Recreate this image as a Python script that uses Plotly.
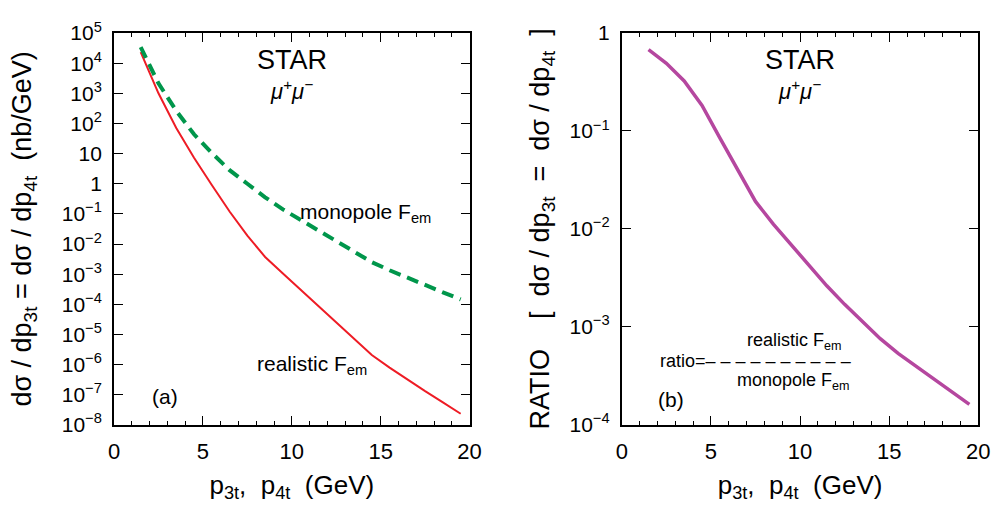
import plotly.graph_objects as go

# transverse momentum of the muons (GeV), bin centres
pt = [1.5, 2.5, 3.5, 4.5, 5.5, 6.5, 7.5, 8.5, 9.5, 10.5,
      11.5, 12.5, 13.5, 14.5, 15.5, 16.5, 17.5, 18.5, 19.5]

# dsigma/dp_t (nb/GeV) with realistic e.m. form factor
realistic = [2.34e4, 1.0e3, 70.8, 7.24, 0.912, 0.120, 1.91e-2, 3.72e-3, 1.05e-3, 3.02e-4,
             8.71e-5, 2.51e-5, 6.76e-6, 2.09e-6, 7.94e-7, 3.16e-7, 1.32e-7, 5.62e-8, 2.34e-8]

# dsigma/dp_t (nb/GeV) with monopole e.m. form factor
monopole = [3.39e4, 2.14e3, 263.0, 43.7, 10.5, 2.82, 1.0, 0.355, 0.141, 6.31e-2,
            2.82e-2, 1.26e-2, 5.62e-3, 2.51e-3, 1.35e-3, 7.59e-4, 4.17e-4, 2.51e-4, 1.45e-4]

# realistic / monopole
ratio = [0.676, 0.490, 0.324, 0.182, 8.51e-2, 4.07e-2, 1.91e-2, 1.12e-2, 6.92e-3, 4.17e-3,
         2.63e-3, 1.70e-3, 1.12e-3, 7.59e-4, 5.37e-4, 3.98e-4, 2.95e-4, 2.19e-4, 1.62e-4]

x_ticks = [0, 5, 10, 15, 20]
left_decades = list(range(-8, 6))
right_decades = list(range(-4, 1))

W, H = 1007, 512
FONT = "Liberation Sans"


def decade_label(e):
    if e == 0:
        return "1"
    if e == 1:
        return "10"
    return "10<sup>" + str(e).replace("-", "\u2212") + "</sup>"


def minor_vals(decades):
    vals = []
    for e in decades[:-1]:
        for k in range(2, 10):
            vals.append(k * 10.0 ** e)
    return vals


fig = go.Figure()
fig.add_trace(go.Scatter(x=pt, y=realistic, mode="lines",
                         line=dict(color="#ee1c25", width=2), xaxis="x", yaxis="y"))
fig.add_trace(go.Scatter(x=pt, y=monopole, mode="lines",
                         line=dict(color="#00964b", width=4, dash="12px,7px"),
                         xaxis="x", yaxis="y"))
fig.add_trace(go.Scatter(x=pt, y=ratio, mode="lines",
                         line=dict(color="#b5479f", width=3.5), xaxis="x2", yaxis="y2"))

xtitle = "p<sub>3t</sub>,  p<sub>4t</sub>  (GeV)"
common_x = dict(range=[0, 20], tickvals=x_ticks, ticktext=[str(v) for v in x_ticks],
                ticks="inside", ticklen=9, tickwidth=1.3, tickcolor="black",
                minor=dict(dtick=1, tick0=0, ticks="inside", ticklen=4, tickwidth=1, tickcolor="black"),
                showline=True, linecolor="black", linewidth=2, mirror="allticks",
                showgrid=False, zeroline=False, ticklabelstandoff=6,
                tickfont=dict(family=FONT, size=22, color="black"),
                title=dict(text=xtitle, font=dict(family=FONT, size=26, color="black"), standoff=12))
common_y = dict(type="log", ticks="inside", ticklen=9, tickwidth=1.3, tickcolor="black",
                showline=True, linecolor="black", linewidth=2, mirror="allticks",
                showgrid=False, zeroline=False, ticklabelstandoff=6,
                tickfont=dict(family=FONT, size=21, color="black"))
minor_y = dict(type="log", ticks="inside", ticklen=4, tickwidth=1, tickcolor="black",
               showline=True, linecolor="black", linewidth=2, mirror="allticks",
               showgrid=False, zeroline=False, showticklabels=False, tickmode="array")

y0, y1 = 1 - 432 / H, 1 - 20 / H

fig.update_layout(
    width=W, height=H, margin=dict(l=0, r=0, t=0, b=0),
    paper_bgcolor="white", plot_bgcolor="white", showlegend=False,
    xaxis=dict(domain=[110 / W, 472 / W], anchor="y", **common_x),
    xaxis2=dict(domain=[627 / W, 990 / W], anchor="y2", **common_x),
    yaxis=dict(domain=[y0, y1], anchor="x", range=[-8, 5],
               tickvals=[10.0 ** e for e in left_decades],
               ticktext=[decade_label(e) for e in left_decades],
               title=dict(text="d\u03c3 / dp<sub>3t</sub> = d\u03c3 / dp<sub>4t</sub>  (nb/GeV)",
                          font=dict(family=FONT, size=27, color="black"), standoff=22),
               **common_y),
    yaxis2=dict(domain=[y0, y1], anchor="x2", range=[-4, 0],
                tickvals=[10.0 ** e for e in right_decades],
                ticktext=[decade_label(e) for e in right_decades],
                title=dict(text="RATIO    [  d\u03c3 / dp<sub>3t</sub>  =  d\u03c3 / dp<sub>4t</sub>  ]",
                           font=dict(family=FONT, size=27, color="black"), standoff=12),
                **common_y),
    # minor decade ticks on both log axes
    yaxis3=dict(overlaying="y", anchor="x", range=[-8, 5],
                tickvals=minor_vals(left_decades), **minor_y),
    yaxis4=dict(overlaying="y2", anchor="x2", range=[-4, 0],
                tickvals=minor_vals(right_decades), **minor_y),
)


def label(text, px, py, size, xanchor="center", italic=False):
    fig.add_annotation(text=("<i>" + text + "</i>") if italic else text,
                       x=px / W, y=1 - py / H, xref="paper", yref="paper",
                       xanchor=xanchor, yanchor="middle", showarrow=False,
                       font=dict(family=FONT, size=size, color="black"))


mumu = "\u03bc<sup>+</sup>\u03bc<sup>\u2212</sup>"

# panel (a)
label("STAR", 291, 48, 27)
label(mumu, 291, 80, 22, italic=True)
label("monopole F<sub>em</sub>", 297, 209, 21, xanchor="left")
label("realistic F<sub>em</sub>", 254, 369, 21, xanchor="left")
label("(a)", 162, 402, 21)

# panel (b)
label("STAR", 808, 48, 27)
label(mumu, 808, 80, 22, italic=True)
label("realistic F<sub>em</sub>", 752, 344, 18, xanchor="left")
label("ratio=" + " ".join(["\u2013"] * 10), 664, 365, 18, xanchor="left")
label("monopole F<sub>em</sub>", 742, 386, 18, xanchor="left")
label("(b)", 677, 405, 21)

fig.write_html("out.html")
